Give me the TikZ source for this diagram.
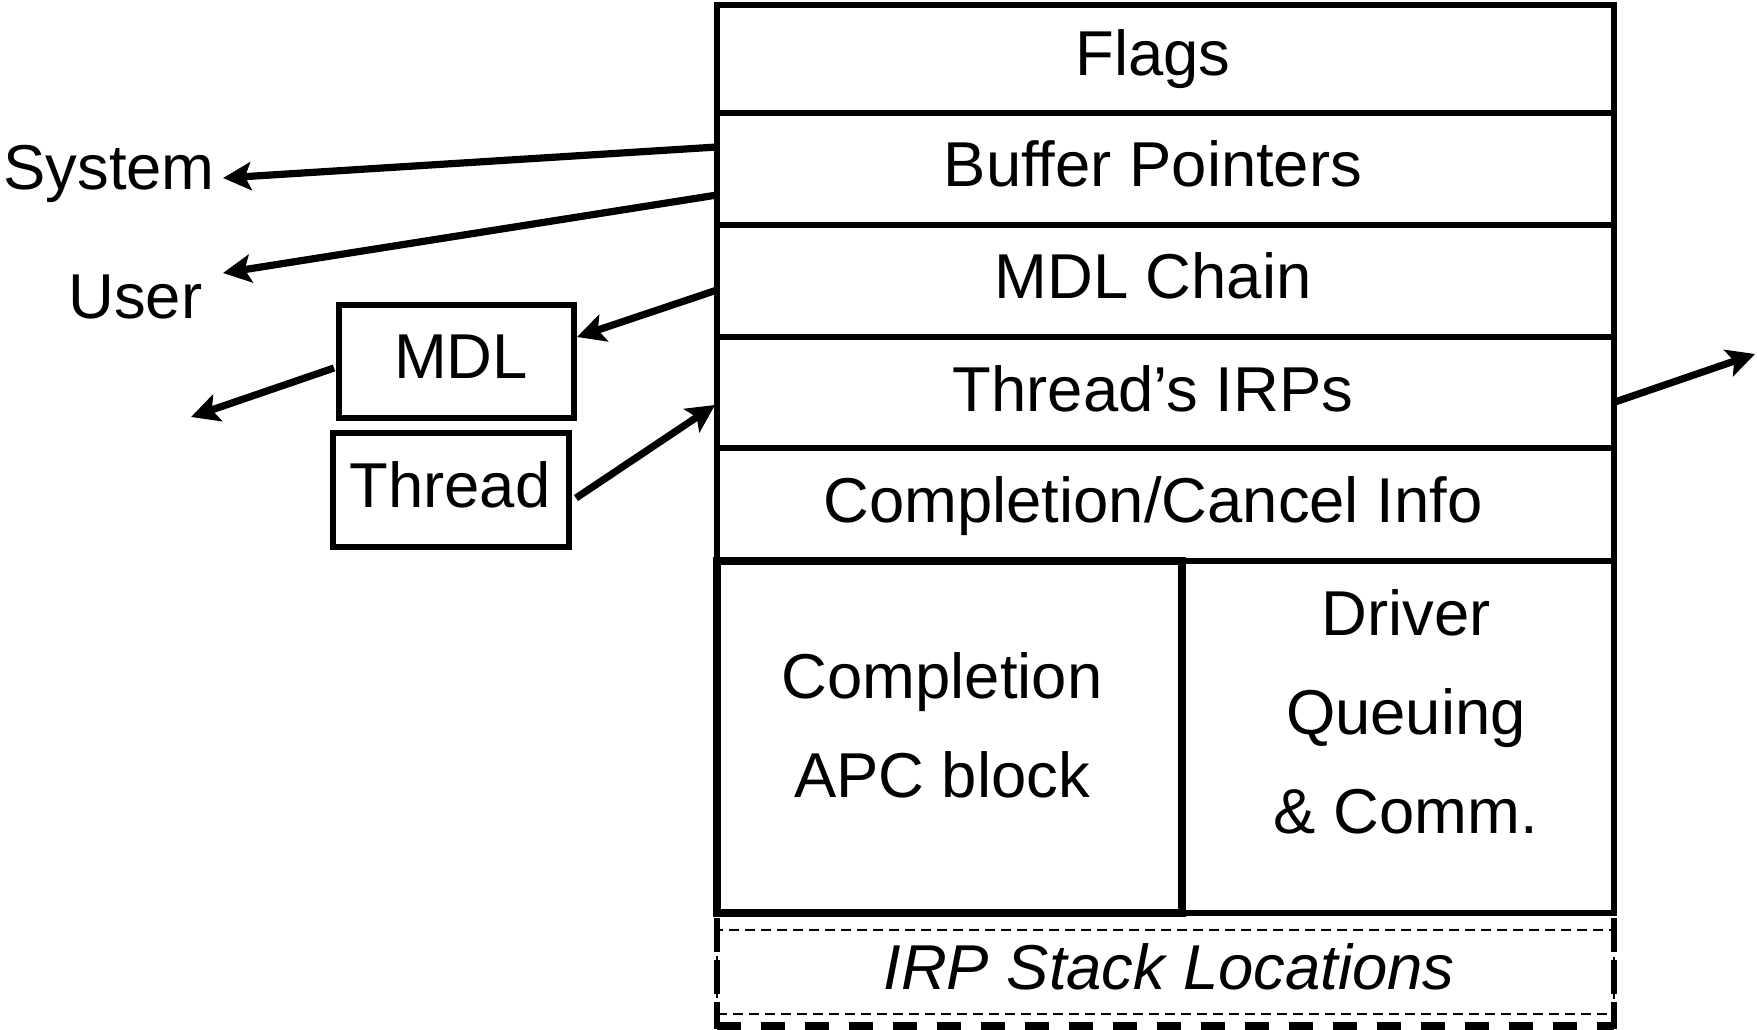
\documentclass[tikz,border=0pt]{standalone}
\usepackage{fontspec}
\setmainfont{Liberation Sans}
\usetikzlibrary{arrows.meta}
\begin{document}
\begin{tikzpicture}[x=0.5pt,y=-0.5pt,
  rowbox/.style={draw,line width=2.9pt,inner sep=0pt,minimum width=448.5pt},
  txt/.style={font=\fontsize{31.7}{38}\selectfont,inner sep=0pt,anchor=base},
  itxt/.style={font=\fontsize{31.7}{38}\selectfont\itshape,inner sep=0pt,anchor=base},
  arr/.style={line width=3.6pt,-{Stealth[length=14pt,width=14pt,inset=3pt]}},
  smallbox/.style={draw,line width=2.9pt,inner sep=0pt}
]
\useasboundingbox (0,0) rectangle (1757,1029);

% main rows
\node[rowbox,minimum height=54pt] (flags) at (1165.5,59) {};
\node[rowbox,minimum height=56pt] (buf) at (1165.5,169) {};
\node[rowbox,minimum height=56pt] (mdlc) at (1165.5,281) {};
\node[rowbox,minimum height=55.5pt] (thr) at (1165.5,392.5) {};
\node[rowbox,minimum height=56pt] (cci) at (1165.5,504.5) {};
\node[draw,line width=2.9pt,inner sep=0pt,minimum width=216pt,minimum height=176pt] (drv) at (1398,737) {};
\node[draw,line width=4pt,inner sep=0pt,minimum width=232.5pt,minimum height=176pt] (apc) at (949.5,737) {};

\node[txt] (tflags) at (1153,75) {Flags};
\node[txt] (tbuf) at (1153,186) {Buffer Pointers};
\node[txt] (tmdlc) at (1153,298) {MDL Chain};
\node[txt] (tthr) at (1153,411) {Thread’s IRPs};
\node[txt] (tcci) at (1153,522) {Completion/Cancel Info};
\node[txt] (tapc1) at (942,698) {Completion};
\node[txt] (tapc2) at (942,797) {APC block};
\node[txt] (tdrv1) at (1406,635) {Driver};
\node[txt] (tdrv2) at (1406,734) {Queuing};
\node[txt] (tdrv3) at (1406,833) {\& Comm.};

% IRP stack locations
\node[draw,line width=1pt,dash pattern=on 5pt off 3pt,inner sep=0pt,minimum width=448.5pt,minimum height=42pt] (irp) at (1165.5,972) {};
\draw[line width=3.8pt,dash pattern=on 12pt off 10pt] (717,1026) coordinate (irpbl) -- (1614,1026) coordinate (irpbr);
\draw[line width=3.2pt,dash pattern=on 17pt off 4pt] (717,918) -- (717,1029);
\draw[line width=3.2pt,dash pattern=on 17pt off 4pt] (1614,918) -- (1614,1029);
\node[itxt] (tirp) at (1169,989) {IRP Stack Locations};

% left side
\node[txt,anchor=base west] (sys) at (3,189) {System};
\node[txt,anchor=base west] (usr) at (68,318) {User};
\node[smallbox,minimum width=117.5pt,minimum height=56.5pt] (mdl) at (456.5,361.5) {};
\node[txt] (tmdl) at (461,378) {MDL};
\node[smallbox,minimum width=118pt,minimum height=57pt] (thread) at (451,490) {};
\node[txt] (tthread) at (450,507) {Thread};

% arrow endpoints
\coordinate (a1s) at (717,147);
\coordinate (a1e) at (223,178);
\coordinate (a2s) at (717,195);
\coordinate (a2e) at (223,273);
\coordinate (a3s) at (717,290);
\coordinate (a3e) at (577,337);
\coordinate (a4s) at (334,368);
\coordinate (a4e) at (191,417);
\coordinate (a5s) at (576,498);
\coordinate (a5e) at (715,405);
\coordinate (a6s) at (1615,402);
\coordinate (a6e) at (1755,354);

\draw[arr] (a1s) -- (a1e);
\draw[arr] (a2s) -- (a2e);
\draw[arr] (a3s) -- (a3e);
\draw[arr] (a4s) -- (a4e);
\draw[arr] (a5s) -- (a5e);
\draw[arr] (a6s) -- (a6e);
\end{tikzpicture}
\end{document}
